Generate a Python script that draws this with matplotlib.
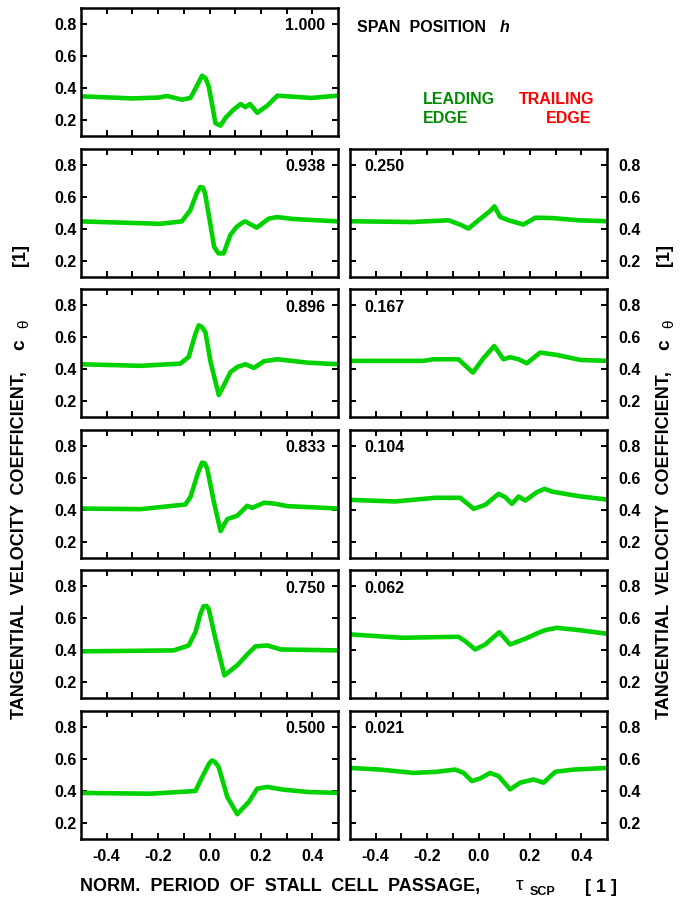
import matplotlib.pyplot as plt

plt.rcParams['font.family'] = ['Liberation Sans', 'DejaVu Sans']
plt.rcParams['font.weight'] = 'bold'

# span positions h, left column (near tip) and right column (near hub)
left_spans = ["1.000", "0.938", "0.896", "0.833", "0.750", "0.500"]
right_spans = ["0.250", "0.167", "0.104", "0.062", "0.021"]

# c_theta versus tau_SCP, one pair of lists per span position
x_1000 = [-0.5, -0.3, -0.2, -0.165, -0.107, -0.074, -0.05, -0.029, -0.015, -0.003, 0.012, 0.023,
          0.043, 0.062, 0.09, 0.121, 0.14, 0.157, 0.186, 0.225, 0.264, 0.303, 0.394, 0.5]
y_1000 = [0.348, 0.335, 0.34, 0.35, 0.327, 0.338, 0.41, 0.477, 0.46, 0.41, 0.28, 0.18,
          0.165, 0.213, 0.26, 0.30, 0.28, 0.30, 0.245, 0.29, 0.352, 0.348, 0.338, 0.352]

x_0938 = [-0.5, -0.192, -0.108, -0.075, -0.05, -0.036, -0.025, -0.017, 0.003, 0.018, 0.035,
          0.055, 0.081, 0.105, 0.126, 0.139, 0.184, 0.23, 0.262, 0.327, 0.5]
y_0938 = [0.445, 0.43, 0.445, 0.514, 0.62, 0.66, 0.655, 0.618, 0.43, 0.286, 0.245,
          0.245, 0.36, 0.41, 0.435, 0.445, 0.406, 0.462, 0.472, 0.46, 0.445]

x_0896 = [-0.5, -0.269, -0.113, -0.081, -0.055, -0.042, -0.03, -0.016, 0.004, 0.036, 0.056,
          0.082, 0.11, 0.14, 0.173, 0.212, 0.264, 0.381, 0.5]
y_0896 = [0.431, 0.421, 0.435, 0.477, 0.62, 0.674, 0.665, 0.632, 0.446, 0.238, 0.30,
          0.383, 0.415, 0.431, 0.408, 0.45, 0.462, 0.441, 0.431]

x_0833 = [-0.5, -0.269, -0.178, -0.094, -0.074, -0.045, -0.029, -0.018, -0.009, 0.017, 0.043,
          0.069, 0.108, 0.147, 0.166, 0.212, 0.251, 0.303, 0.5]
y_0833 = [0.408, 0.404, 0.419, 0.433, 0.481, 0.63, 0.695, 0.69, 0.657, 0.45, 0.267,
          0.342, 0.363, 0.425, 0.412, 0.444, 0.439, 0.423, 0.408]

x_0750 = [-0.5, -0.139, -0.081, -0.055, -0.035, -0.023, -0.012, -0.003, 0.023, 0.058, 0.108,
          0.15, 0.179, 0.225, 0.277, 0.5]
y_0750 = [0.394, 0.40, 0.431, 0.514, 0.63, 0.676, 0.678, 0.659, 0.473, 0.244, 0.307,
          0.38, 0.425, 0.431, 0.406, 0.40]

x_0500 = [-0.5, -0.23, -0.055, -0.022, 0.0, 0.010, 0.022, 0.036, 0.069, 0.108, 0.153,
          0.186, 0.225, 0.29, 0.381, 0.5]
y_0500 = [0.388, 0.383, 0.40, 0.508, 0.575, 0.591, 0.58, 0.549, 0.363, 0.255, 0.332,
          0.415, 0.425, 0.408, 0.394, 0.388]

x_0250 = [-0.5, -0.26, -0.117, -0.071, -0.039, 0.0, 0.045, 0.062, 0.084, 0.117, 0.175,
          0.221, 0.286, 0.39, 0.5]
y_0250 = [0.446, 0.441, 0.452, 0.425, 0.40, 0.452, 0.51, 0.539, 0.473, 0.452, 0.425,
          0.468, 0.466, 0.452, 0.446]

x_0167 = [-0.5, -0.214, -0.175, -0.078, -0.022, 0.019, 0.061, 0.097, 0.123, 0.156, 0.188,
          0.24, 0.305, 0.396, 0.5]
y_0167 = [0.452, 0.452, 0.462, 0.462, 0.379, 0.468, 0.545, 0.462, 0.475, 0.462, 0.437,
          0.504, 0.489, 0.458, 0.452]

x_0104 = [-0.5, -0.325, -0.169, -0.071, -0.019, 0.026, 0.078, 0.104, 0.13, 0.156, 0.182,
          0.227, 0.257, 0.286, 0.39, 0.5]
y_0104 = [0.462, 0.452, 0.475, 0.475, 0.406, 0.431, 0.50, 0.479, 0.437, 0.483, 0.458,
          0.51, 0.531, 0.514, 0.485, 0.464]

x_0062 = [-0.5, -0.299, -0.078, -0.052, -0.013, 0.026, 0.081, 0.123, 0.182, 0.227, 0.26,
          0.305, 0.39, 0.5]
y_0062 = [0.50, 0.479, 0.485, 0.458, 0.406, 0.437, 0.514, 0.437, 0.473, 0.506, 0.527,
          0.541, 0.527, 0.504]

x_0021 = [-0.5, -0.383, -0.253, -0.162, -0.091, -0.058, -0.026, 0.006, 0.045, 0.078, 0.123,
          0.162, 0.214, 0.253, 0.299, 0.37, 0.5]
y_0021 = [0.544, 0.534, 0.513, 0.52, 0.534, 0.513, 0.462, 0.478, 0.513, 0.493, 0.41,
          0.452, 0.472, 0.452, 0.52, 0.534, 0.544]

left_data = [(x_1000, y_1000), (x_0938, y_0938), (x_0896, y_0896),
             (x_0833, y_0833), (x_0750, y_0750), (x_0500, y_0500)]
right_data = [(x_0250, y_0250), (x_0167, y_0167), (x_0104, y_0104),
              (x_0062, y_0062), (x_0021, y_0021)]

x_ticks = [-0.4, -0.3, -0.2, -0.1, 0.0, 0.1, 0.2, 0.3, 0.4]
y_ticks = [0.2, 0.4, 0.6, 0.8]
line_green = '#00d200'
fs = 11.5

W, H = 687, 900
fig = plt.figure(figsize=(W / 100, H / 100), dpi=100)


def make_axes(left_px, top_px, side, bottom_row):
    ax = fig.add_axes([left_px / W, 1 - (top_px + 128) / H, 257 / W, 128 / H])
    ax.set_xlim(-0.5, 0.5)
    ax.set_ylim(0.1, 0.9)
    ax.set_xticks(x_ticks)
    # only every other tick carries a label
    ax.set_xticklabels([f"{t:.1f}" if i % 2 == 0 else "" for i, t in enumerate(x_ticks)])
    ax.set_yticks(y_ticks)
    ax.set_yticklabels([f"{t:.1f}" for t in y_ticks])
    for s in ax.spines.values():
        s.set_linewidth(1.8)
    ax.tick_params(direction='in', length=4, width=1.4, top=True, right=True,
                   labelsize=fs, labelbottom=bottom_row)
    if side == 'left':
        ax.tick_params(axis='y', labelleft=True, labelright=False, pad=3)
    else:
        ax.tick_params(axis='y', labelleft=False, labelright=True, pad=8)
    ax.tick_params(axis='x', pad=7)
    return ax


row_tops = [8 + i * 140.6 for i in range(6)]

for i, (span, (xs, ys)) in enumerate(zip(left_spans, left_data)):
    ax = make_axes(81, row_tops[i], 'left', i == 5)
    ax.plot(xs, ys, color=line_green, lw=3.3, solid_joinstyle='round')
    ax.text(0.95, 0.86, span, transform=ax.transAxes, ha='right', va='center',
            fontsize=fs, fontweight='bold')

for i, (span, (xs, ys)) in enumerate(zip(right_spans, right_data)):
    ax = make_axes(350, row_tops[i + 1], 'right', i == 4)
    ax.plot(xs, ys, color=line_green, lw=3.3, solid_joinstyle='round')
    ax.text(0.055, 0.86, span, transform=ax.transAxes, ha='left', va='center',
            fontsize=fs, fontweight='bold')


def ftext(xp, yp, s, **kw):
    fig.text(xp / W, 1 - yp / H, s, **kw)


# annotations in the empty top-right slot
ftext(357, 27, "SPAN  POSITION", ha='left', va='center', fontsize=fs)
ftext(500, 27, "h", ha='left', va='center', fontsize=fs, style='italic')
ftext(423, 100, "LEADING", ha='left', va='center', fontsize=fs, color='#008a00')
ftext(423, 118, "EDGE", ha='left', va='center', fontsize=fs, color='#008a00')
ftext(594, 100, "TRAILING", ha='right', va='center', fontsize=fs, color='#ff0000')
ftext(591, 118, "EDGE", ha='right', va='center', fontsize=fs, color='#ff0000')

# x axis title
ftext(80, 887, "NORM.  PERIOD  OF  STALL  CELL  PASSAGE,", ha='left', va='center', fontsize=13)
ftext(516, 885, "τ", ha='left', va='center', fontsize=14, fontweight='normal')
ftext(530, 892, "SCP", ha='left', va='center', fontsize=9)
ftext(585, 887, "[ 1 ]", ha='left', va='center', fontsize=13)

# y axis titles, both sides
for xp in (20, 665):
    ftext(xp, 545, "TANGENTIAL  VELOCITY  COEFFICIENT,", rotation=90,
          ha='center', va='center', fontsize=13)
    ftext(xp, 345, "c", rotation=90, ha='center', va='center', fontsize=14)
    ftext(xp + 4, 324, "θ", rotation=90, ha='center', va='center', fontsize=11,
          fontweight='normal')
    ftext(xp, 255, "[1]", rotation=90, ha='center', va='center', fontsize=13)

fig.savefig("out.png", dpi=100)
